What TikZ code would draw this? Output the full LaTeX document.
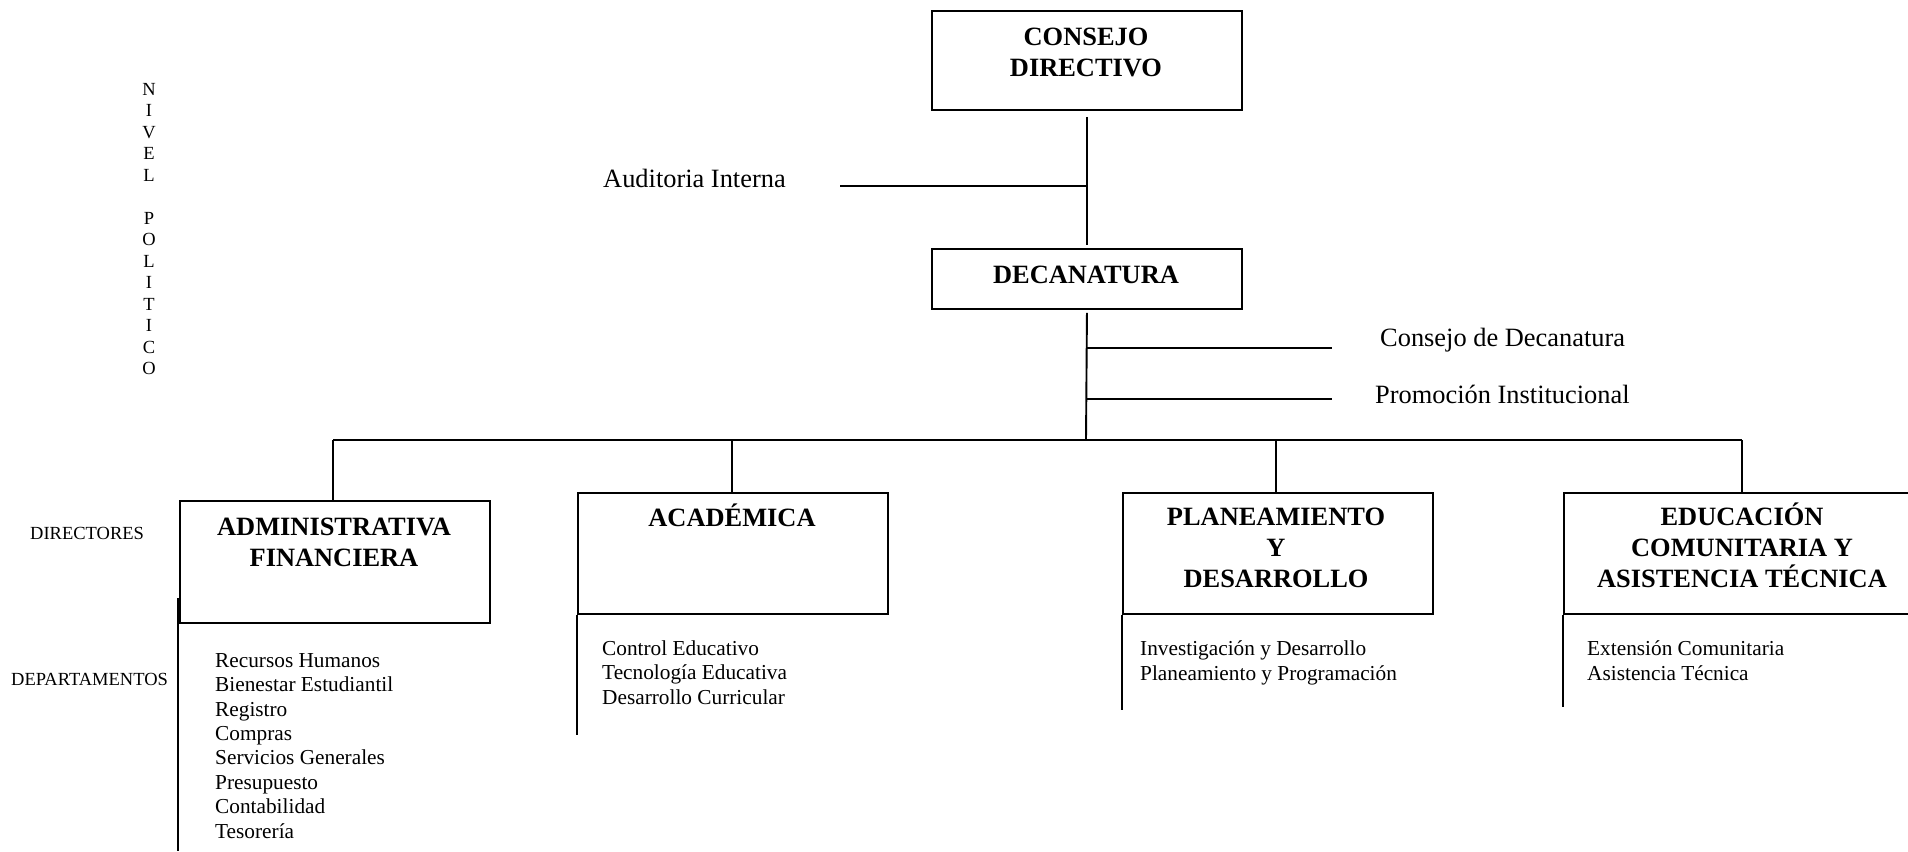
\documentclass[tikz,border=0pt]{standalone}
\usepackage{fontspec}
\setmainfont{Liberation Serif}
\begin{document}
\begin{tikzpicture}[x=1pt,y=-1pt,
  box/.style={draw, line width=1.9pt, inner sep=0pt, anchor=north west},
  conn/.style={line width=1.9pt},
  title/.style={font=\fontsize{26.4}{30.7}\selectfont\bfseries, align=center, inner sep=0pt, anchor=base},
  label/.style={font=\fontsize{26.4}{31}\selectfont, inner sep=0pt, anchor=base west},
  dept/.style={font=\fontsize{21.3}{24.4}\selectfont, align=left, inner sep=0pt, anchor=base west},
  side/.style={font=\fontsize{18.5}{21.5}\selectfont, inner sep=0pt},
]
\useasboundingbox (0,0) rectangle (1908,851);
\clip (0,0) rectangle (1908,851);

% boxes
\node[box, minimum width=310pt, minimum height=99pt] (cd) at (931,10) {};
\node[box, minimum width=310pt, minimum height=60pt] (dec) at (931,248) {};
\node[box, minimum width=310pt, minimum height=122pt] (adm) at (179,500) {};
\node[box, minimum width=310pt, minimum height=121pt] (aca) at (577,492) {};
\node[box, minimum width=310pt, minimum height=121pt] (pla) at (1122,492) {};
\node[box, minimum width=358pt, minimum height=121pt] (edu) at (1563,492) {};

% titles (anchor = baseline of the last line)
\node[title] (cdt) at (1086,76) {CONSEJO\\DIRECTIVO};
\node[title] (dect) at (1086,283) {DECANATURA};
\node[title] (admt) at (334,566) {ADMINISTRATIVA\\FINANCIERA};
\node[title] (acat) at (732,526) {ACADÉMICA};
\node[title] (plat) at (1276,587) {PLANEAMIENTO\\Y\\DESARROLLO};
\node[title] (edut) at (1742,587) {EDUCACIÓN\\COMUNITARIA Y\\ASISTENCIA TÉCNICA};

% staff labels
\node[label] (aud) at (603,187) {Auditoria Interna};
\node[label] (cdec) at (1380,346) {Consejo de Decanatura};
\node[label] (prom) at (1375,403) {Promoción Institucional};

% side labels
\node[side, align=center, anchor=base] (nivel) at (149,374.5) {N\\I\\V\\E\\L\\~\\P\\O\\L\\I\\T\\I\\C\\O};
\node[side, anchor=base west] (dir) at (30,539) {DIRECTORES};
\node[side, anchor=base west] (dep) at (11,685) {DEPARTAMENTOS};

% departments (anchor = baseline of the last line)
\node[dept] (admd) at (215,838) {Recursos Humanos\\Bienestar Estudiantil\\Registro\\Compras\\Servicios Generales\\Presupuesto\\Contabilidad\\Tesorería};
\node[dept] (acad) at (602,704) {Control Educativo\\Tecnología Educativa\\Desarrollo Curricular};
\node[dept] (plad) at (1140,680) {Investigación y Desarrollo\\Planeamiento y Programación};
\node[dept] (edud) at (1587,680) {Extensión Comunitaria\\Asistencia Técnica};

% coordinates
\coordinate (j1) at (1086,186);
\coordinate (a1) at (840,186);
\coordinate (j2) at (1086,348);
\coordinate (c2) at (1332,348);
\coordinate (j3) at (1086,399);
\coordinate (c3) at (1332,399);
\coordinate (bus) at (1086,440);
\coordinate (b1) at (333,440);
\coordinate (b2) at (732,440);
\coordinate (b3) at (1276,440);
\coordinate (b4) at (1742,440);
\coordinate (l1a) at (178,598);
\coordinate (l1b) at (178,851);
\coordinate (l2b) at (577,735);
\coordinate (l3b) at (1122,710);
\coordinate (l4b) at (1563,707);

% connectors
\draw[conn] ([yshift=-6pt]cd.south) -- ([yshift=3pt]dec.north);
\draw[conn] (a1) -- (j1);
\draw[conn] ([yshift=-3pt]dec.south) -- (bus);
\draw[conn] (j2) -- (c2);
\draw[conn] (j3) -- (c3);
\draw[conn] (b1) -- (b4);
\draw[conn] (b1) -- (b1 |- adm.north);
\draw[conn] (b2) -- (b2 |- aca.north);
\draw[conn] (b3) -- (b3 |- pla.north);
\draw[conn] (b4) -- (b4 |- edu.north);
\draw[conn] (l1a) -- (l1b);
\draw[conn] (aca.south west) -- (l2b);
\draw[conn] (pla.south west) -- (l3b);
\draw[conn] (edu.south west) -- (l4b);
\end{tikzpicture}
\end{document}
